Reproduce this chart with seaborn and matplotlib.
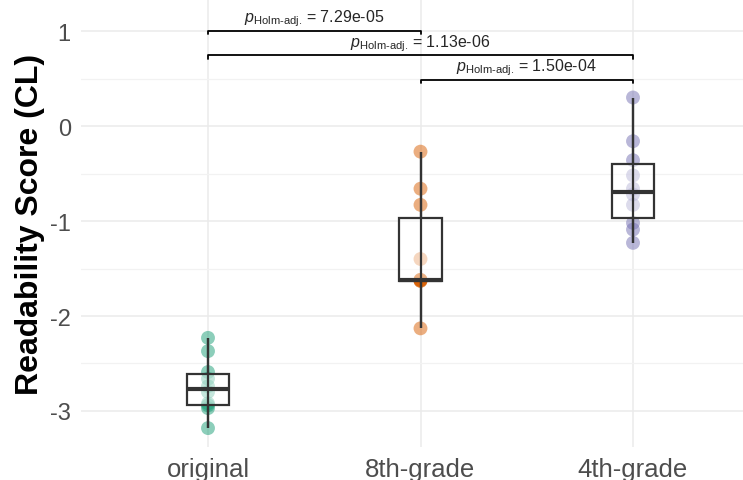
import numpy as np
import pandas as pd
import seaborn as sns
import matplotlib.pyplot as plt
from matplotlib.ticker import MultipleLocator

# readability scores (CL) per text version
groups = ["original", "8th-grade", "4th-grade"]
original = [-3.18, -2.97, -2.94, -2.92, -2.80, -2.74, -2.66, -2.59, -2.37, -2.23]
grade8 = [-2.13, -1.63, -1.63, -1.62, -1.62, -1.62, -1.40, -0.83, -0.66, -0.27]
grade4 = [-1.23, -1.09, -1.02, -0.83, -0.72, -0.66, -0.52, -0.36, -0.16, 0.30]

# pairwise comparisons, bottom bracket first
pairs = [("8th-grade", "4th-grade"), ("original", "4th-grade"), ("original", "8th-grade")]
p_holm = ["1.50e-04", "1.13e-06", "7.29e-05"]

palette = ["#1B9E77", "#D95F02", "#7570B3"]


def main():
    df = pd.DataFrame({
        "group": np.repeat(groups, [len(original), len(grade8), len(grade4)]),
        "score": original + grade8 + grade4,
    })

    sns.set_theme(style="whitegrid")
    plt.rcParams["font.family"] = ["Liberation Sans", "DejaVu Sans"]
    plt.rcParams["mathtext.fontset"] = "custom"
    plt.rcParams["mathtext.rm"] = "Liberation Sans"
    plt.rcParams["mathtext.it"] = "Liberation Sans:italic"
    plt.rcParams["axes.unicode_minus"] = False

    fig = plt.figure(figsize=(7.43, 4.81), dpi=100)
    ax = fig.add_axes([80.5 / 743, 33 / 481, 680 / 743, 448 / 481])

    sns.stripplot(data=df, x="group", y="score", hue="group", order=groups,
                  hue_order=groups, palette=palette, jitter=False, size=10,
                  alpha=0.5, linewidth=0, legend=False, zorder=2, ax=ax)
    sns.boxplot(data=df, x="group", y="score", order=groups, width=0.2,
                color="white", linecolor="#333333", linewidth=1.6,
                whis=np.inf, showcaps=False, medianprops=dict(linewidth=3),
                zorder=3, ax=ax)
    for p in ax.patches:
        p.set_facecolor((1, 1, 1, 0.5))

    # whisker line through the box
    rng = df.groupby("group")["score"].agg(["min", "max"])
    for i, g in enumerate(groups):
        ax.vlines(i, rng.loc[g, "min"], rng.loc[g, "max"], color="#333333",
                  lw=1.6, zorder=4)

    # significance brackets
    for k, ((a, b), pv) in enumerate(zip(pairs, p_holm)):
        xa, xb = groups.index(a), groups.index(b)
        y = 0.487 + 0.257 * k
        ax.plot([xa, xa, xb, xb], [y - 0.035, y, y, y - 0.035],
                color="black", lw=1.3, zorder=5)
        ax.text((xa + xb) / 2, y + 0.1,
                r"$p_{\text{Holm-adj.}}$ = " + pv,
                ha="center", va="baseline", fontsize=11.5)

    ax.set_xlim(-0.6, 2.6)
    ax.set_ylim(-3.379, 1.337)
    ax.set_yticks([-3, -2, -1, 0, 1])
    ax.yaxis.set_minor_locator(MultipleLocator(0.5))
    ax.grid(False)
    ax.grid(which="major", color="#EBEBEB", lw=1.1)
    ax.grid(which="minor", axis="y", color="#F2F2F2", lw=0.9)
    ax.set_axisbelow(True)
    for s in ax.spines.values():
        s.set_visible(False)

    ax.tick_params(axis="y", which="major", length=4, width=1,
                   color="#333333", labelsize=17, labelcolor="#4D4D4D", pad=3)
    ax.tick_params(axis="x", which="major", length=4, width=1,
                   color="#333333", labelsize=18.5, labelcolor="#4D4D4D", pad=3)
    ax.tick_params(which="minor", length=0)

    ax.set_xlabel("")
    ax.set_ylabel("Readability Score (CL)", fontsize=23, fontweight="bold",
                  color="black")
    ax.yaxis.set_label_coords(-0.052, 0.5)

    fig.savefig("out.png", dpi=100)


if __name__ == "__main__":
    main()
